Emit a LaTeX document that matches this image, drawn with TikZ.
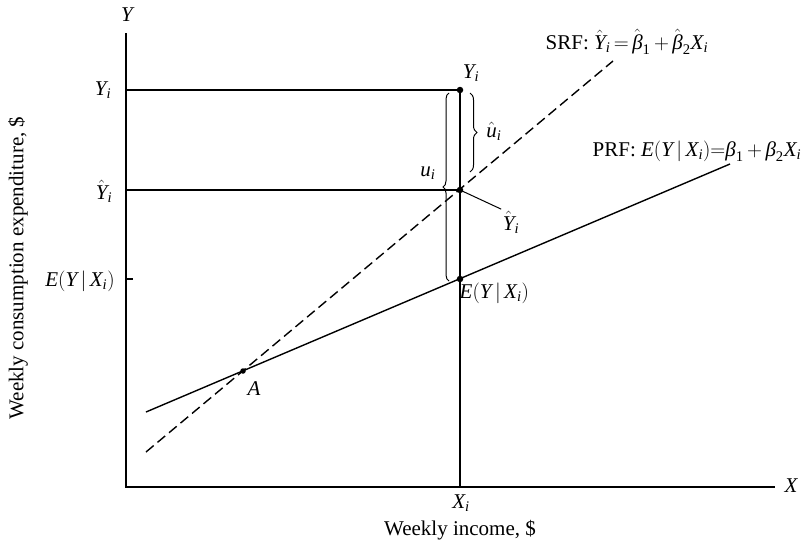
\documentclass[tikz,border=0pt]{standalone}
\usepackage{amsmath}
\usepackage{fontspec}
\setmainfont{Liberation Serif}
\usetikzlibrary{decorations.pathreplacing}
\newcommand\I[1]{\textit{#1}}
\newcommand\dd[1]{\textup{#1}}
\begin{document}
\begin{tikzpicture}[x=1pt,y=-1pt,line width=1.4pt,
  every node/.style={font=\fontsize{21}{23}\selectfont,inner sep=1pt},
  dot/.style={circle,fill,inner sep=0pt,minimum size=6.5pt},
  srf/.style={dash pattern=on 10pt off 5pt},
  brc/.style={decorate,line width=1pt}]
\useasboundingbox (0,0) rectangle (811,544);
% axes
\coordinate (Ytop) at (126,33);
\coordinate (O) at (126,487);
\coordinate (Xend) at (775,487);
\draw (Ytop) -- (O) -- (Xend);
\node (ylab) at (127,15) {$\I{Y}$};
\node (xlab) at (791,486) {$\I{X}$};
% points on the vertical line
\node[dot] (P1) at (460,90) {};
\node[dot] (P2) at (460,190) {};
\node[dot] (P3) at (460,279) {};
\coordinate (Xi) at (460,487);
\draw (P1.center) -- (Xi);
\coordinate (Y1) at (126,90);
\coordinate (Y2) at (126,190);
\coordinate (E1) at (126,279);
\coordinate (E2) at (133,279);
\draw (Y1) -- (P1.center);
\draw (Y2) -- (P2.center);
\draw (E1) -- (E2);
% SRF and PRF
\coordinate (s1) at (146,452);
\coordinate (s2) at (613,61);
\coordinate (p1) at (146,412);
\coordinate (p2) at (730,164);
\draw[srf] (s1) -- (s2);
\draw (p1) -- (p2);
\node[dot,minimum size=5.5pt] (A) at (243,371) {};
\node (Alab) at (254,389) {$\I{A}$};
% braces
\coordinate (b1) at (470,93);
\coordinate (b2) at (470,172);
\draw[brc,decoration={brace,amplitude=7pt}] (b1) -- (b2);
\coordinate (c1) at (449,281);
\coordinate (c2) at (449,93);
\draw[brc,decoration={brace,amplitude=6pt}] (c1) -- (c2);
% labels near vertical line
\node (Yi) at (471,73) {$\I{Y}_{\I{i}}$};
\node (uh) at (494,131) {$\hat{\I{u}}_{\I{i}}$};
\node (u) at (428,173) {$\I{u}_{\I{i}}$};
\node (yh) at (511,222) {$\hat{\I{Y}}_{\I{i}}$};
\draw[line width=1pt] (P2.center) -- (yh.north west);
\node[anchor=west] (EY) at (458,293) {$\I{E}(\I{Y}\,|\,\I{X}_{\I{i}})$};
% left labels
\node (lY) at (103,90) {$\I{Y}_{\I{i}}$};
\node (lYh) at (104,191) {$\hat{\I{Y}}_{\I{i}}$};
\node (lE) at (80,281) {$\I{E}(\I{Y}\,|\,\I{X}_{\I{i}})$};
% axis labels
\node (Xil) at (461,503) {$\I{X}_{\I{i}}$};
\node (xt) at (460,530) {Weekly income, \$};
\node[rotate=90] (yt) at (18,268) {Weekly consumption expenditure, \$};
% equations
\node[anchor=west] (srfl) at (544,42) {SRF: $\hat{\I{Y}}_{\I{i}}\,{=}\,\hat{\I{β}}_{\dd{1}}\,{+}\,\hat{\I{β}}_{\dd{2}}\I{X}_{\I{i}}$};
\node[anchor=west] (prfl) at (591,151) {PRF: $\I{E}(\I{Y}\,|\,\I{X}_{\I{i}}){=}\I{β}_{\dd{1}}\,{+}\,\I{β}_{\dd{2}}\I{X}_{\I{i}}$};
\end{tikzpicture}
\end{document}
